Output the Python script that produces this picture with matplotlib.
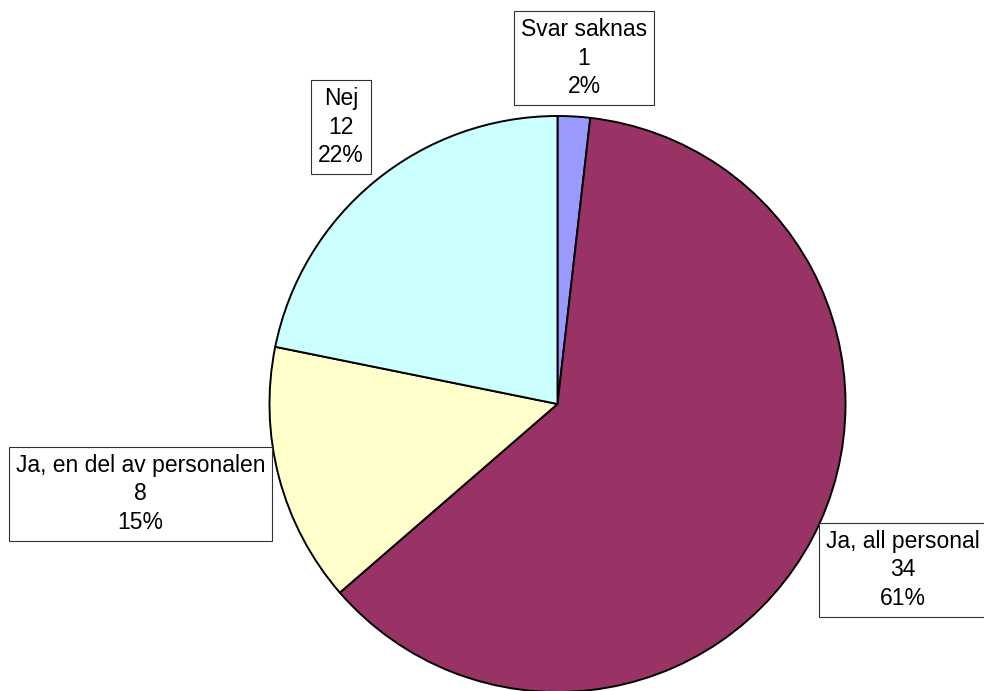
import matplotlib
matplotlib.use("Agg")
from matplotlib import pyplot as plt

# data (clockwise from 12 o'clock)
categories = ["Svar saknas", "Ja, all personal", "Ja, en del av personalen", "Nej"]
counts = [1, 34, 8, 12]
percents = [2, 61, 15, 22]
colors = ["#9999FF", "#993366", "#FFFFCC", "#CCFFFF"]

# label box centres in pixels (from top-left), as placed in the original
label_pos = [(584, 58), (903, 570), (140.5, 494), (341, 127)]

W, H = 984, 691
plt.rcParams["font.family"] = ["Liberation Sans", "DejaVu Sans"]

fig = plt.figure(figsize=(W / 100, H / 100), dpi=100)
ax = fig.add_axes([0, 0, 1, 1])

ax.pie(counts, colors=colors, startangle=90, counterclock=False,
       center=(557.5, H - 404), radius=288,
       wedgeprops=dict(edgecolor="black", linewidth=1.4))

for name, n, p, (x, y) in zip(categories, counts, percents, label_pos):
    ax.text(x, H - y, f"{name}\n{n}\n{p}%", ha="center", va="center",
            fontsize=16.5, linespacing=1.3,
            bbox=dict(boxstyle="square,pad=0.3", fc="white", ec="#333333", lw=0.8))

ax.set_xlim(0, W)
ax.set_ylim(0, H)
ax.set_aspect("auto")
ax.axis("off")

fig.savefig("out.png", dpi=100)
